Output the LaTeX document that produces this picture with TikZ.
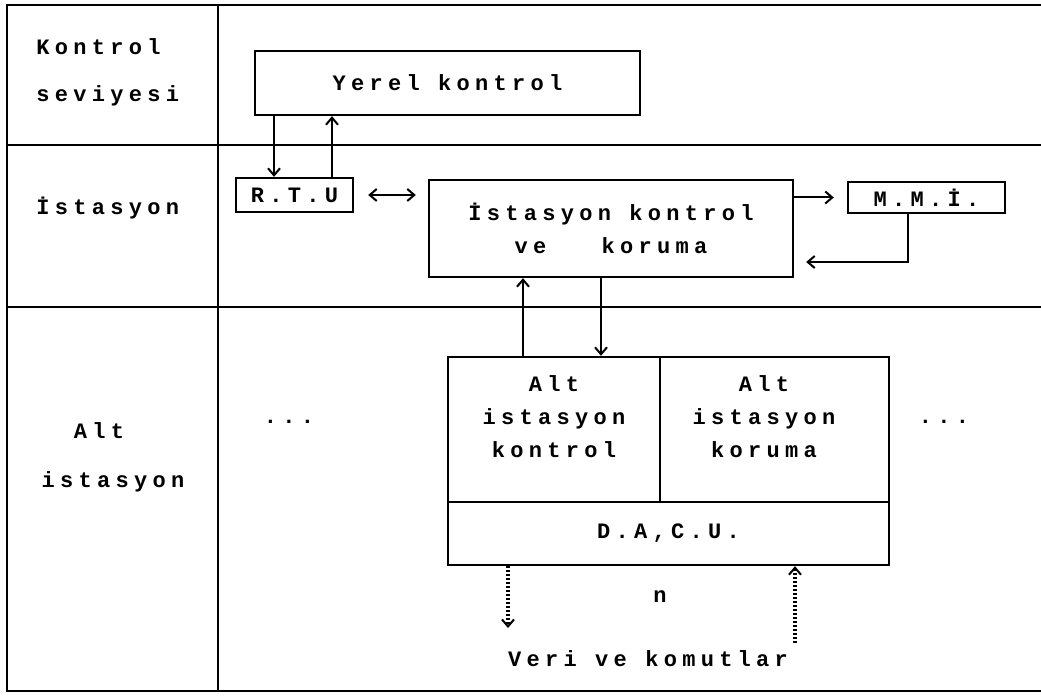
\documentclass[tikz,border=0pt]{standalone}
\usepackage{fontspec}
\setmainfont{Liberation Mono}[LetterSpace=24]
\usetikzlibrary{arrows.meta}
\newcommand\lbfont{\fontsize{11pt}{16.5pt}\selectfont\bfseries}
\begin{document}
\begin{tikzpicture}[x=0.5pt,y=-0.5pt,
  frame/.style={line width=1.4pt},
  box/.style={draw, line width=1.2pt, inner sep=0pt, align=center, font=\lbfont},
  txt/.style={inner sep=0pt, font=\lbfont, align=center},
  arr/.style={line width=1pt, -{Straight Barb[length=3.5pt,width=6pt]}},
  darr/.style={line width=1pt, {Straight Barb[length=3.5pt,width=6pt]}-{Straight Barb[length=3.5pt,width=6pt]}},
  dotarr/.style={line width=1.6pt, dash pattern=on 1.1pt off 0.9pt, -{Straight Barb[length=3.5pt,width=6pt,line width=1pt]}}
]
\useasboundingbox (0,0) rectangle (1041,700);
% frame
\draw[frame] (1041,5) -- (7,5) -- (7,691) -- (1041,691);
\draw[frame] (218,5) -- (218,691);
\draw[frame] (7,145) -- (1041,145);
\draw[frame] (7,307) -- (1041,307);
% level labels
\node[txt, anchor=base west] (l1) at (36,55) {Kontrol};
\node[txt, anchor=base west] (l2) at (36,102) {seviyesi};
\node[txt, anchor=base west] (l3) at (36,215) {İstasyon};
\node[txt, anchor=base] (l4) at (99,439) {Alt};
\node[txt, anchor=base] (l5) at (113,488) {istasyon};
% boxes
\node[box, minimum width=192.5pt, minimum height=32pt] (yerel) at (447.5,83) {Yerel kontrol};
\node[box, minimum width=58.5pt, minimum height=17pt] (rtu) at (294.5,195) {R.T.U};
\node[box, minimum width=182pt, minimum height=48.5pt] (ist) at (611,228.5) {İstasyon kontrol\\ve\ \ \ koruma};
\node[box, minimum width=78.5pt, minimum height=15.5pt] (mmi) at (926.5,197.5) {M.M.İ.};
\node[box, minimum width=106pt, minimum height=72.5pt] (altk) at (554,429.5) {};
\node[box, minimum width=114.5pt, minimum height=72.5pt] (altp) at (774.5,429.5) {};
\node[box, minimum width=220.5pt, minimum height=31.5pt] (dacu) at (668.5,533.5) {D.A,C.U.};
\node[txt] (altkT) at (554,417) {Alt\\istasyon\\kontrol};
\node[txt] (altpT) at (764,417) {Alt\\istasyon\\koruma};
% dots and labels
\node[txt] (dl) at (289,422) {...};
\node[txt] (dr) at (944,422) {...};
\node[txt] (n) at (660,597) {n};
\node[txt, anchor=base] (veri) at (648,667) {Veri ve komutlar};
% coordinates
\coordinate (xa) at (274,0);
\coordinate (xb) at (332,0);
\coordinate (xc) at (523,0);
\coordinate (xd) at (601,0);
\coordinate (m1) at (908,262);
\coordinate (v1) at (508,628);
\coordinate (v2) at (795,643);
% connectors
\draw[arr] (xa |- yerel.south) -- (xa |- rtu.north);
\draw[arr] (xb |- rtu.north) -- (xb |- yerel.south);
\draw[darr, shorten <=7pt, shorten >=6pt] (rtu.east) -- (rtu.east -| ist.west);
\draw[arr, shorten >=6.5pt] (ist.east |- mmi.west) -- (mmi.west);
\draw[arr, shorten >=6pt] (m1 |- mmi.south) -- (m1) -- (m1 -| ist.east);
\draw[arr] (xc |- altk.north) -- (xc |- ist.south);
\draw[arr] (xd |- ist.south) -- (xd |- altk.north);
\draw[dotarr] (v1 |- dacu.south) -- (v1);
\draw[dotarr] (v2) -- (v2 |- dacu.south);
\end{tikzpicture}
\end{document}
